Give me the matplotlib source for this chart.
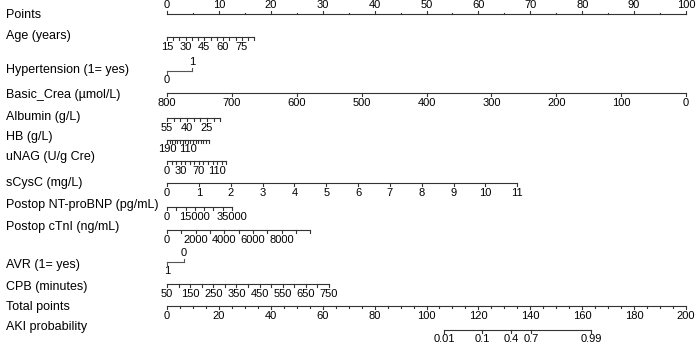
import numpy as np
import matplotlib
matplotlib.use("Agg")
from matplotlib import pyplot as plt

plt.rcParams['font.family'] = ['Liberation Sans', 'DejaVu Sans']

# ---- nomogram data ----
# each variable: tick values, labelled values, and the points at the two ends
points_ticks = [0, 10, 20, 30, 40, 50, 60, 70, 80, 90, 100]
points_minor = [5, 15, 25, 35, 45, 55, 65, 75, 85, 95]

age_ticks = [15, 20, 25, 30, 35, 40, 45, 50, 55, 60, 65, 70, 75, 80, 85]
age_labels = [15, 30, 45, 60, 75]
age_ends = (15, 0.0, 85, 16.8)

htn_values = [0, 1]
htn_points = [0.0, 4.8]

crea_ticks = [800, 700, 600, 500, 400, 300, 200, 100, 0]
crea_labels = [800, 700, 600, 500, 400, 300, 200, 100, 0]
crea_ends = (800, 0.0, 0, 100.0)

alb_ticks = [55, 50, 45, 40, 35, 30, 25, 20, 15]
alb_labels = [55, 40, 25]
alb_ends = (55, 0.0, 15, 10.3)

hb_ticks = [190, 180, 170, 160, 150, 140, 130, 120, 110, 100, 90, 80, 70, 60, 50, 40, 30]
hb_labels = [190, 110]
hb_ends = (190, 0.0, 30, 8.0)

unag_ticks = [0, 10, 20, 30, 40, 50, 60, 70, 80, 90, 100, 110, 120, 130]
unag_labels = [0, 30, 70, 110]
unag_ends = (0, 0.0, 130, 11.4)

cysc_ticks = [0, 1, 2, 3, 4, 5, 6, 7, 8, 9, 10, 11]
cysc_labels = [0, 1, 2, 3, 4, 5, 6, 7, 8, 9, 10, 11]
cysc_ends = (0, 0.0, 11, 67.5)

bnp_ticks = [0, 5000, 10000, 15000, 20000, 25000, 30000, 35000]
bnp_labels = [0, 15000, 35000]
bnp_ends = (0, 0.0, 35000, 12.5)

ctni_ticks = [0, 1000, 2000, 3000, 4000, 5000, 6000, 7000, 8000, 9000, 10000]
ctni_labels = [0, 2000, 4000, 6000, 8000]
ctni_ends = (0, 0.0, 10000, 27.6)

avr_values = [1, 0]
avr_points = [0.0, 3.3]

cpb_ticks = [50, 100, 150, 200, 250, 300, 350, 400, 450, 500, 550, 600, 650, 700, 750]
cpb_labels = [50, 150, 250, 350, 450, 550, 650, 750]
cpb_ends = (50, 0.0, 750, 31.2)

total_ticks = [0, 20, 40, 60, 80, 100, 120, 140, 160, 180, 200]
total_minor = [5, 10, 15, 25, 30, 35, 45, 50, 55, 65, 70, 75, 85, 90, 95,
               105, 110, 115, 125, 130, 135, 145, 150, 155, 165, 170, 175,
               185, 190, 195]

aki_prob = ['0.01', '0.1', '0.4', '0.7', '0.99']
aki_total = [106.7, 121.5, 132.6, 140.3, 163.5]

W, H = 700, 345
fig = plt.figure(figsize=(7, 3.45), dpi=100)
ax = fig.add_axes([167 / W, 0, 519 / W, 1])
ax.set_xlim(0, 100)
ax.set_ylim(H, 0)
ax.axis('off')

FS_NAME = 9
FS_TICK = 8
LC = '#333333'
LW = 0.8
TL = 3


def to_pts(v, ends):
    v0, p0, v1, p1 = ends
    return p0 + (np.asarray(v, float) - v0) * (p1 - p0) / (v1 - v0)


def name(y, s):
    fig.text(6 / W, 1 - y / H, s, fontsize=FS_NAME, va='center', ha='left')


def scale(xs, lab_x, labs, y, ly, up=False, scale_x=1.0, minor=None):
    xs = np.asarray(xs) * scale_x
    ax.plot([xs.min(), xs.max()], [y, y], color=LC, lw=LW, clip_on=False)
    d = -TL if up else TL
    for x in xs:
        ax.plot([x, x], [y, y + d], color=LC, lw=LW, clip_on=False)
    if minor is not None:
        for x in np.asarray(minor) * scale_x:
            ax.plot([x, x], [y, y + d * 0.5], color=LC, lw=LW, clip_on=False)
    for x, t in zip(np.asarray(lab_x) * scale_x, labs):
        ax.text(x, ly, str(t), fontsize=FS_TICK, ha='center', va='center', clip_on=False)


def cont(ticks, labels, ends, y, ly):
    scale(to_pts(ticks, ends), to_pts(labels, ends), labels, y, ly)


def binary(vals, pts, y):
    ax.plot([pts[0], pts[1]], [y, y], color='#555555', lw=LW, clip_on=False)
    ax.plot([pts[0], pts[0]], [y, y + TL], color='#555555', lw=LW, clip_on=False)
    ax.plot([pts[1], pts[1]], [y, y - TL], color='#555555', lw=LW, clip_on=False)
    ax.text(pts[0], y + 9, str(vals[0]), fontsize=FS_TICK, ha='center', va='center')
    ax.text(pts[1], y - 9, str(vals[1]), fontsize=FS_TICK, ha='center', va='center')


name(15, 'Points')
scale(points_ticks, points_ticks, points_ticks, 14, 5, up=True, minor=points_minor)

name(36, 'Age (years)')
cont(age_ticks, age_labels, age_ends, 37, 47)

name(70, 'Hypertension (1= yes)')
binary(htn_values, htn_points, 71)

name(95, 'Basic_Crea (\u00b5mol/L)')
cont(crea_ticks, crea_labels, crea_ends, 93, 103)

name(117, 'Albumin (g/L)')
cont(alb_ticks, alb_labels, alb_ends, 118, 128)

name(137, 'HB (g/L)')
cont(hb_ticks, hb_labels, hb_ends, 140, 149)

name(157, 'uNAG (U/g Cre)')
cont(unag_ticks, unag_labels, unag_ends, 161, 171)

name(183, 'sCysC (mg/L)')
cont(cysc_ticks, cysc_labels, cysc_ends, 183, 193)

name(205, 'Postop NT-proBNP (pg/mL)')
cont(bnp_ticks, bnp_labels, bnp_ends, 207, 217)

name(227, 'Postop cTnI (ng/mL)')
cont(ctni_ticks, ctni_labels, ctni_ends, 230, 240)

name(265, 'AVR (1= yes)')
binary(avr_values, avr_points, 262)

name(287, 'CPB (minutes)')
cont(cpb_ticks, cpb_labels, cpb_ends, 284, 294)

name(307, 'Total points')
scale(total_ticks, total_ticks, total_ticks, 306, 316, scale_x=0.5, minor=total_minor)

name(327, 'AKI probability')
scale(aki_total, aki_total, aki_prob, 330, 339, scale_x=0.5)

fig.savefig('out.png', dpi=100)
